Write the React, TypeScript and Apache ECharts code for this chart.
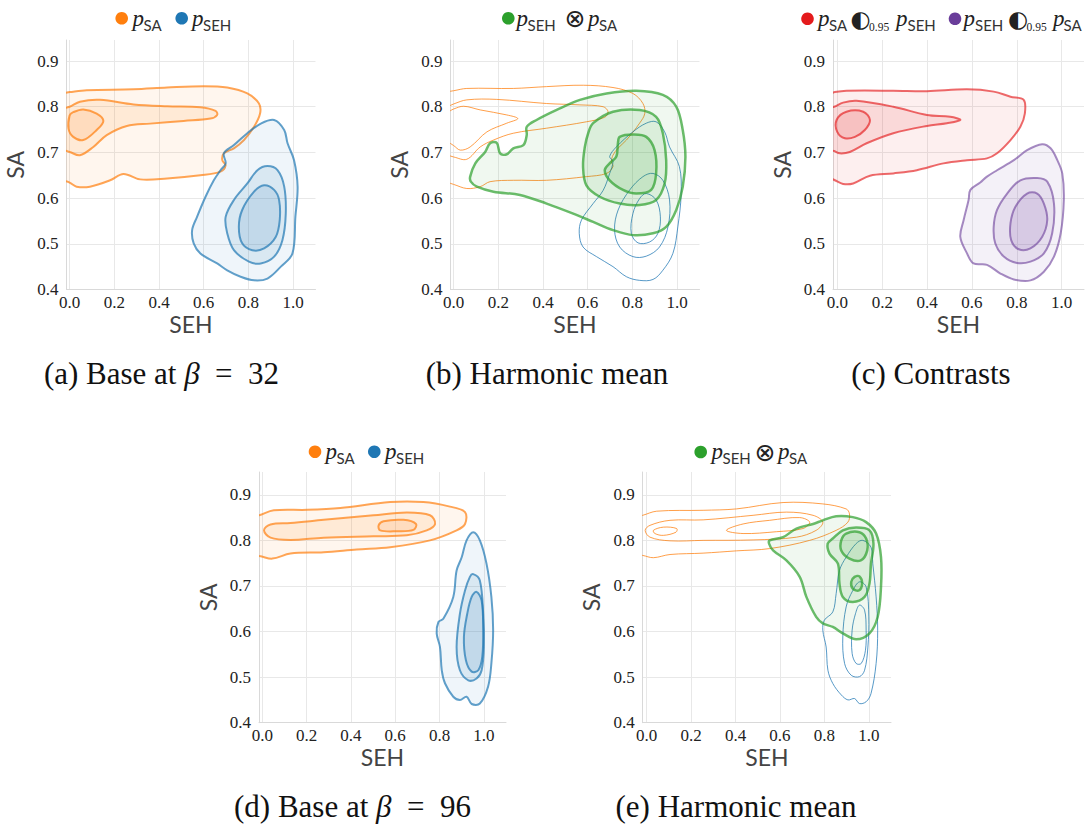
import React, { useEffect, useRef } from "react";
import * as echarts from "echarts";

type P = [number, number];

// ---------- contour data (SEH, SA) ----------
// Panel (a) base beta=32
const aSa1: P[] = [[-0.03,0.830],[0.0,0.832],[0.076,0.836],[0.286,0.838],[0.436,0.842],[0.60,0.845],[0.705,0.842],[0.795,0.829],[0.847,0.807],[0.852,0.785],[0.825,0.756],[0.78,0.727],[0.735,0.709],[0.69,0.698],[0.683,0.683],[0.698,0.672],[0.675,0.658],[0.585,0.650],[0.436,0.643],[0.316,0.641],[0.241,0.653],[0.181,0.639],[0.091,0.625],[0.031,0.625],[0.0,0.634],[-0.03,0.638],[-0.08,0.638],[-0.08,0.830]];
const aSa2: P[] = [[-0.03,0.797],[0.0,0.800],[0.046,0.811],[0.136,0.815],[0.286,0.805],[0.436,0.801],[0.585,0.799],[0.653,0.791],[0.66,0.782],[0.63,0.774],[0.51,0.769],[0.36,0.763],[0.256,0.758],[0.166,0.738],[0.106,0.712],[0.046,0.694],[0.0,0.701],[-0.03,0.705],[-0.08,0.705],[-0.08,0.797]];
const aSa3: P[] = [[0.0,0.781],[0.016,0.788],[0.061,0.794],[0.121,0.785],[0.151,0.769],[0.121,0.749],[0.061,0.727],[0.016,0.734],[-0.005,0.752]];
const aSeh1: P[] = [[0.915,0.771],[0.96,0.749],[0.975,0.72],[1.004,0.683],[1.02,0.625],[1.01,0.559],[0.997,0.479],[0.945,0.45],[0.885,0.424],[0.825,0.42],[0.765,0.428],[0.705,0.442],[0.66,0.457],[0.585,0.479],[0.555,0.501],[0.548,0.53],[0.57,0.559],[0.608,0.603],[0.645,0.639],[0.675,0.661],[0.698,0.676],[0.69,0.698],[0.735,0.716],[0.795,0.742],[0.855,0.763]];
const aSeh2: P[] = [[0.885,0.67],[0.93,0.661],[0.96,0.625],[0.967,0.566],[0.952,0.508],[0.915,0.472],[0.855,0.457],[0.802,0.461],[0.735,0.486],[0.705,0.523],[0.698,0.559],[0.735,0.596],[0.795,0.632],[0.84,0.661]];
const aSeh3: P[] = [[0.87,0.628],[0.915,0.618],[0.937,0.596],[0.94,0.552],[0.922,0.515],[0.87,0.49],[0.817,0.486],[0.772,0.501],[0.757,0.537],[0.772,0.574],[0.825,0.614]];

// Panel (b) harmonic mean
const bSa1: P[] = [[-0.03,0.833],[0.0,0.835],[0.059,0.84],[0.267,0.84],[0.416,0.844],[0.58,0.847],[0.713,0.842],[0.802,0.829],[0.847,0.807],[0.855,0.785],[0.832,0.764],[0.773,0.727],[0.735,0.709],[0.713,0.694],[0.706,0.68],[0.713,0.669],[0.684,0.654],[0.594,0.647],[0.416,0.639],[0.267,0.639],[0.163,0.636],[0.119,0.625],[0.059,0.621],[0.0,0.63],[-0.03,0.634],[-0.08,0.634],[-0.08,0.833]];
const bSa2: P[] = [[-0.03,0.80],[0.0,0.806],[0.059,0.815],[0.193,0.816],[0.416,0.807],[0.565,0.804],[0.669,0.80],[0.691,0.789],[0.676,0.777],[0.594,0.767],[0.416,0.753],[0.267,0.742],[0.178,0.727],[0.119,0.712],[0.059,0.685],[0.0,0.69],[-0.03,0.694],[-0.08,0.694],[-0.08,0.80]];
const bSa3: P[] = [[-0.03,0.788],[0.0,0.795],[0.045,0.801],[0.119,0.793],[0.238,0.782],[0.287,0.774],[0.238,0.764],[0.149,0.745],[0.074,0.712],[0.03,0.705],[0.0,0.715],[-0.03,0.723],[-0.08,0.723],[-0.08,0.788]];
const bSeh1: P[] = [[0.906,0.767],[0.944,0.745],[0.966,0.712],[1.01,0.669],[1.018,0.61],[1.003,0.537],[0.981,0.479],[0.936,0.442],[0.892,0.422],[0.832,0.42],[0.773,0.428],[0.713,0.45],[0.639,0.472],[0.579,0.493],[0.562,0.523],[0.572,0.552],[0.624,0.588],[0.669,0.617],[0.698,0.654],[0.713,0.68],[0.698,0.691],[0.728,0.712],[0.802,0.745],[0.862,0.764]];
const bSeh2: P[] = [[0.892,0.654],[0.936,0.639],[0.966,0.596],[0.959,0.537],[0.921,0.493],[0.862,0.473],[0.802,0.472],[0.743,0.493],[0.72,0.53],[0.736,0.574],[0.788,0.618],[0.847,0.647]];
const bSeh3: P[] = [[0.862,0.61],[0.906,0.596],[0.925,0.559],[0.914,0.523],[0.877,0.504],[0.825,0.502],[0.795,0.523],[0.802,0.566],[0.832,0.599]];
const bMix1: P[] = [[0.074,0.647],[0.097,0.676],[0.141,0.701],[0.163,0.72],[0.193,0.721],[0.208,0.698],[0.238,0.696],[0.267,0.709],[0.312,0.716],[0.327,0.738],[0.327,0.756],[0.371,0.771],[0.461,0.793],[0.565,0.815],[0.684,0.829],[0.817,0.835],[0.936,0.826],[0.996,0.80],[1.025,0.749],[1.037,0.69],[1.025,0.625],[0.996,0.574],[0.951,0.537],[0.892,0.523],[0.802,0.519],[0.713,0.53],[0.624,0.548],[0.535,0.566],[0.416,0.588],[0.297,0.607],[0.178,0.614],[0.104,0.625],[0.077,0.636]];
const bMix2: P[] = [[0.624,0.764],[0.713,0.789],[0.832,0.793],[0.906,0.778],[0.936,0.742],[0.951,0.683],[0.944,0.632],[0.906,0.596],[0.832,0.585],[0.743,0.588],[0.654,0.603],[0.594,0.628],[0.579,0.669],[0.587,0.712],[0.602,0.742]];
const bMix3: P[] = [[0.743,0.734],[0.802,0.739],[0.862,0.734],[0.899,0.705],[0.906,0.654],[0.884,0.618],[0.817,0.61],[0.758,0.618],[0.698,0.639],[0.676,0.661],[0.698,0.676],[0.728,0.691],[0.735,0.72]];

// Panel (c) contrasts
const cSa1: P[] = [[-0.04,0.828],[-0.012,0.832],[0.04,0.835],[0.249,0.835],[0.399,0.834],[0.578,0.838],[0.697,0.833],[0.772,0.822],[0.831,0.815],[0.836,0.785],[0.816,0.756],[0.772,0.727],[0.712,0.698],[0.667,0.687],[0.578,0.683],[0.473,0.676],[0.354,0.661],[0.249,0.654],[0.145,0.649],[0.07,0.632],[0.025,0.631],[-0.012,0.639],[-0.04,0.645],[-0.08,0.645],[-0.08,0.828]];
const cSa2: P[] = [[-0.04,0.798],[-0.015,0.80],[0.025,0.809],[0.085,0.813],[0.249,0.80],[0.399,0.782],[0.503,0.778],[0.548,0.771],[0.488,0.764],[0.399,0.758],[0.249,0.742],[0.13,0.72],[0.055,0.701],[0.01,0.698],[-0.015,0.703],[-0.04,0.706],[-0.08,0.706],[-0.08,0.798]];
const cSa3: P[] = [[-0.004,0.771],[0.04,0.789],[0.115,0.789],[0.145,0.771],[0.122,0.749],[0.078,0.734],[0.033,0.731],[-0.001,0.745]];
const cSeh1: P[] = [[0.913,0.718],[0.951,0.709],[0.981,0.683],[1.003,0.654],[1.01,0.596],[0.996,0.523],[0.966,0.472],[0.921,0.439],[0.861,0.42],[0.787,0.422],[0.727,0.435],[0.667,0.454],[0.607,0.457],[0.578,0.479],[0.548,0.515],[0.563,0.552],[0.585,0.596],[0.593,0.618],[0.637,0.634],[0.667,0.647],[0.712,0.661],[0.787,0.683],[0.846,0.705]];
const cSeh2: P[] = [[0.816,0.639],[0.891,0.644],[0.936,0.636],[0.966,0.588],[0.958,0.523],[0.921,0.479],[0.861,0.461],[0.801,0.458],[0.742,0.472],[0.704,0.501],[0.697,0.537],[0.712,0.574],[0.757,0.61]];
const cSeh3: P[] = [[0.846,0.61],[0.891,0.61],[0.921,0.588],[0.936,0.552],[0.913,0.515],[0.861,0.49],[0.809,0.488],[0.775,0.508],[0.772,0.545],[0.794,0.581]];

// Panel (d) base beta=96
const dSa1: P[] = [[-0.04,0.853],[-0.015,0.855],[0.052,0.866],[0.202,0.867],[0.352,0.871],[0.577,0.884],[0.727,0.884],[0.847,0.874],[0.915,0.862],[0.915,0.836],[0.877,0.822],[0.757,0.80],[0.577,0.785],[0.427,0.78],[0.277,0.774],[0.127,0.771],[0.045,0.76],[-0.007,0.765],[-0.04,0.767],[-0.08,0.767],[-0.08,0.853]];
const dSa2: P[] = [[0.0075,0.822],[0.037,0.835],[0.127,0.838],[0.277,0.845],[0.502,0.855],[0.652,0.861],[0.757,0.855],[0.78,0.836],[0.742,0.822],[0.652,0.811],[0.502,0.809],[0.277,0.806],[0.127,0.801],[0.037,0.806]];
const dSa3: P[] = [[0.525,0.833],[0.547,0.842],[0.637,0.845],[0.694,0.836],[0.682,0.823],[0.607,0.82],[0.532,0.822]];
const dSeh1: P[] = [[0.952,0.818],[0.982,0.80],[1.012,0.749],[1.034,0.676],[1.042,0.603],[1.034,0.53],[1.019,0.479],[0.982,0.442],[0.945,0.441],[0.922,0.457],[0.892,0.45],[0.862,0.457],[0.825,0.486],[0.81,0.515],[0.802,0.566],[0.787,0.596],[0.795,0.621],[0.817,0.628],[0.862,0.676],[0.877,0.734],[0.9,0.763],[0.922,0.80]];
const dSeh2: P[] = [[0.952,0.726],[0.982,0.712],[0.997,0.639],[1.0,0.566],[0.99,0.515],[0.967,0.497],[0.93,0.493],[0.892,0.515],[0.877,0.566],[0.892,0.639],[0.915,0.69],[0.937,0.72]];
const dSeh3: P[] = [[0.967,0.687],[0.99,0.668],[0.997,0.603],[0.993,0.545],[0.975,0.515],[0.945,0.512],[0.919,0.537],[0.91,0.588],[0.925,0.639],[0.945,0.676]];

// Panel (e) harmonic mean
const eSa1: P[] = [[-0.04,0.853],[-0.018,0.855],[0.045,0.864],[0.254,0.866],[0.404,0.869],[0.614,0.883],[0.793,0.88],[0.898,0.869],[0.913,0.858],[0.906,0.84],[0.853,0.822],[0.734,0.80],[0.554,0.782],[0.404,0.777],[0.254,0.772],[0.105,0.769],[0.03,0.762],[-0.018,0.767],[-0.04,0.768],[-0.08,0.768],[-0.08,0.853]];
const eSa2: P[] = [[-0.007,0.822],[0.015,0.833],[0.105,0.844],[0.254,0.845],[0.479,0.855],[0.629,0.862],[0.749,0.855],[0.793,0.84],[0.763,0.822],[0.674,0.807],[0.479,0.801],[0.254,0.80],[0.105,0.799],[0.015,0.807]];
const eSa3a: P[] = [[0.03,0.822],[0.075,0.829],[0.135,0.826],[0.132,0.818],[0.075,0.811],[0.037,0.815]];
const eSa3b: P[] = [[0.359,0.822],[0.434,0.836],[0.554,0.844],[0.689,0.85],[0.734,0.84],[0.704,0.826],[0.584,0.819],[0.434,0.815]];
const eSeh1: P[] = [[0.973,0.80],[1.01,0.785],[1.018,0.749],[1.033,0.676],[1.04,0.603],[1.033,0.53],[1.01,0.464],[0.988,0.446],[0.958,0.442],[0.936,0.453],[0.906,0.45],[0.876,0.461],[0.838,0.486],[0.816,0.515],[0.808,0.566],[0.793,0.603],[0.80,0.625],[0.838,0.643],[0.853,0.683],[0.868,0.734],[0.898,0.763],[0.943,0.793]];
const eSeh2: P[] = [[0.958,0.709],[0.988,0.698],[1.0,0.632],[0.996,0.566],[0.981,0.515],[0.958,0.501],[0.921,0.504],[0.891,0.53],[0.883,0.588],[0.898,0.654],[0.928,0.69]];
const eSeh3: P[] = [[0.958,0.658],[0.981,0.647],[0.988,0.603],[0.985,0.559],[0.966,0.53],[0.943,0.53],[0.925,0.552],[0.925,0.603],[0.94,0.639]];
const eMix1: P[] = [[0.554,0.80],[0.614,0.807],[0.674,0.826],[0.749,0.836],[0.793,0.844],[0.853,0.853],[0.928,0.851],[0.988,0.84],[1.033,0.815],[1.055,0.763],[1.055,0.698],[1.04,0.632],[1.003,0.596],[0.943,0.583],[0.883,0.596],[0.838,0.61],[0.793,0.618],[0.763,0.632],[0.719,0.676],[0.689,0.72],[0.629,0.756],[0.569,0.778],[0.551,0.793]];
const eMix2: P[] = [[0.838,0.804],[0.883,0.822],[0.943,0.828],[1.003,0.822],[1.021,0.793],[1.01,0.749],[1.003,0.705],[0.981,0.676],[0.928,0.665],[0.883,0.676],[0.868,0.705],[0.861,0.749],[0.823,0.771],[0.815,0.793]];
const eMix3a: P[] = [[0.898,0.815],[0.958,0.818],[0.988,0.804],[0.993,0.778],[0.964,0.756],[0.913,0.76],[0.876,0.778],[0.876,0.80]];
const eMix3b: P[] = [[0.936,0.72],[0.958,0.721],[0.97,0.705],[0.955,0.69],[0.928,0.694],[0.921,0.709]];

// ---------- axes / texts ----------
const X_TICKS_STEP = 0.2;
const Y_TICKS_STEP = 0.1;
const xAxisTitle = "SEH";
const yAxisTitle = "SA";
const captions = [
  { pre: "(a) Base at ", beta: "β", post: "  =  32" },
  { pre: "(b) Harmonic mean", beta: "", post: "" },
  { pre: "(c) Contrasts", beta: "", post: "" },
  { pre: "(d) Base at ", beta: "β", post: "  =  96" },
  { pre: "(e) Harmonic mean", beta: "", post: "" },
];

const RGB: Record<string, number[]> = {
  orange: [255, 127, 14],
  blue: [31, 119, 180],
  green: [44, 160, 44],
  red: [228, 26, 28],
  purple: [106, 61, 154],
};
const rgba = (c: number[], a: number) => `rgba(${c[0]},${c[1]},${c[2]},${a})`;
const solid = (k: string) => rgba(RGB[k], 1);

const panels = [
  { left: 66.5, top: 40, width: 249, height: 249.5, xmin: -0.014, xmax: 1.1, ymin: 0.4, ymax: 0.946 },
  { left: 450.5, top: 40, width: 249, height: 249.5, xmin: -0.014, xmax: 1.1, ymin: 0.4, ymax: 0.946 },
  { left: 833, top: 40, width: 251, height: 249.5, xmin: -0.02, xmax: 1.1, ymin: 0.4, ymax: 0.946 },
  { left: 259, top: 472, width: 247, height: 250.7, xmin: -0.015, xmax: 1.1, ymin: 0.4, ymax: 0.95 },
  { left: 642.7, top: 472, width: 248.3, height: 250.7, xmin: -0.018, xmax: 1.1, ymin: 0.4, ymax: 0.95 },
];

interface Layer { g: number; pts: P[]; c: string; lw: number; la: number; fa: number }
const THICK = 2;
const FILLS = [0.07, 0.1, 0.12];
const thickSet = (g: number, c: string, arrs: P[][], la = 0.7): Layer[] =>
  arrs.map((pts, i) => ({ g, pts, c, lw: THICK, la, fa: FILLS[Math.min(i, 2)] }));
const thinSet = (g: number, c: string, arrs: P[][]): Layer[] =>
  arrs.map((pts) => ({ g, pts, c, lw: 1, la: 0.75, fa: 0 }));

const layers: Layer[] = [
  ...thickSet(0, "orange", [aSa1, aSa2, aSa3]),
  ...thickSet(0, "blue", [aSeh1, aSeh2, aSeh3]),
  ...thinSet(1, "orange", [bSa1, bSa2, bSa3]),
  ...thinSet(1, "blue", [bSeh1, bSeh2, bSeh3]),
  ...thickSet(1, "green", [bMix1, bMix2, bMix3]).map((l) => ({ ...l, lw: 2.5 })),
  ...thickSet(2, "red", [cSa1, cSa2, cSa3], 0.65),
  ...thickSet(2, "purple", [cSeh1, cSeh2, cSeh3], 0.6),
  ...thickSet(3, "orange", [dSa1, dSa2, dSa3]),
  ...thickSet(3, "blue", [dSeh1, dSeh2, dSeh3]),
  ...thinSet(4, "orange", [eSa1, eSa2, eSa3a, eSa3b]),
  ...thinSet(4, "blue", [eSeh1, eSeh2, eSeh3]),
  ...[
    ...thickSet(4, "green", [eMix1, eMix2, eMix3a]),
    { g: 4, pts: eMix3b, c: "green", lw: THICK, la: 0.7, fa: FILLS[2] },
  ].map((l) => ({ ...l, lw: 2.5 })),
];

const SERIF = "Liberation Serif, Times New Roman, serif";
const SANS = "Lato, Open Sans, sans-serif";
const SYM = "DejaVu Sans, sans-serif";

type LegItem = { kind: string; x: number; y: number; t?: string; c?: string };
const legends: LegItem[][] = [
  [
    { kind: "dot", x: 121.7, y: 18.3, c: "orange" }, { kind: "p", x: 132.5, y: 18, t: "p" }, { kind: "sub", x: 143.5, y: 24.5, t: "SA" },
    { kind: "dot", x: 181.7, y: 18.3, c: "blue" }, { kind: "p", x: 192, y: 18, t: "p" }, { kind: "sub", x: 203, y: 24.5, t: "SEH" },
  ],
  [
    { kind: "dot", x: 508.3, y: 18.3, c: "green" }, { kind: "p", x: 516.5, y: 18, t: "p" }, { kind: "sub", x: 527.5, y: 24.5, t: "SEH" },
    { kind: "sym", x: 564.5, y: 18.5, t: "⊗" }, { kind: "p", x: 588, y: 18, t: "p" }, { kind: "sub", x: 599, y: 24.5, t: "SA" },
  ],
  [
    { kind: "dot", x: 807.5, y: 18.8, c: "red" }, { kind: "p", x: 818, y: 18, t: "p" }, { kind: "sub", x: 829, y: 24.5, t: "SA" },
    { kind: "half", x: 850.5, y: 19, t: "◐" }, { kind: "num", x: 869, y: 27, t: "0.95" },
    { kind: "p", x: 896, y: 18, t: "p" }, { kind: "sub", x: 907.5, y: 24.5, t: "SEH" },
    { kind: "dot", x: 955, y: 18.8, c: "purple" }, { kind: "p", x: 963.5, y: 18, t: "p" }, { kind: "sub", x: 975, y: 24.5, t: "SEH" },
    { kind: "half", x: 1008, y: 19, t: "◐" }, { kind: "num", x: 1026.5, y: 27, t: "0.95" },
    { kind: "p", x: 1053, y: 18, t: "p" }, { kind: "sub", x: 1063.5, y: 24.5, t: "SA" },
  ],
  [
    { kind: "dot", x: 315, y: 451.7, c: "orange" }, { kind: "p", x: 325.5, y: 451.4, t: "p" }, { kind: "sub", x: 336.5, y: 458, t: "SA" },
    { kind: "dot", x: 374.3, y: 451.7, c: "blue" }, { kind: "p", x: 385, y: 451.4, t: "p" }, { kind: "sub", x: 396, y: 458, t: "SEH" },
  ],
  [
    { kind: "dot", x: 700.7, y: 452, c: "green" }, { kind: "p", x: 711.5, y: 451.4, t: "p" }, { kind: "sub", x: 722.5, y: 458, t: "SEH" },
    { kind: "sym", x: 754.5, y: 452, t: "⊗" }, { kind: "p", x: 778, y: 451.4, t: "p" }, { kind: "sub", x: 789, y: 458, t: "SA" },
  ],
];
const captionPos = [
  { x: 161.5, y: 373 },
  { x: 547, y: 373 },
  { x: 931, y: 373 },
  { x: 352.5, y: 806 },
  { x: 736, y: 806 },
];

function buildGraphic() {
  const els: any[] = [];
  legends.forEach((items) => {
    items.forEach((it) => {
      if (it.kind === "dot") {
        els.push({ type: "circle", shape: { cx: it.x, cy: it.y, r: 6.3 }, style: { fill: solid(it.c!) }, silent: true });
      } else {
        let font = "";
        let fill = "#222";
        if (it.kind === "p") font = `italic 23px ${SERIF}`;
        if (it.kind === "sub") { font = `15px ${SANS}`; fill = "#333"; }
        if (it.kind === "sym") font = `25px ${SYM}`;
        if (it.kind === "half") font = `23px ${SYM}`;
        if (it.kind === "num") font = `11.5px ${SERIF}`;
        els.push({
          type: "text", x: it.x, y: it.y, silent: true,
          style: { text: it.t, font, fill, align: "left", verticalAlign: "middle" },
        });
      }
    });
  });
  captions.forEach((c, i) => {
    const text = c.beta ? `${c.pre}{b|${c.beta}}${c.post}` : c.pre;
    els.push({
      type: "text",
      x: captionPos[i].x,
      y: captionPos[i].y,
      silent: true,
      style: {
        text,
        fill: "#111",
        fontFamily: SERIF,
        fontSize: 31,
        align: "center",
        verticalAlign: "middle",
        rich: { b: { fontFamily: SERIF, fontSize: 31, fontStyle: "italic", fill: "#111" } },
      },
    });
  });
  return els;
}

function buildOption() {
  const grid = panels.map((p) => ({ left: p.left, top: p.top, width: p.width, height: p.height, containLabel: false }));
  const fmt = (v: number) => v.toFixed(1);
  const labelStyle = { fontFamily: SERIF, fontSize: 17, color: "#222" };
  const xAxis = panels.map((p, i) => ({
    gridIndex: i,
    type: "value",
    min: p.xmin,
    max: p.xmax,
    splitNumber: 5,
    minInterval: X_TICKS_STEP,
    maxInterval: X_TICKS_STEP,
    axisLine: { show: true, onZero: false, lineStyle: { color: "#d9d9d9", width: 1 } },
    axisTick: { show: false },
    axisLabel: { show: true, showMinLabel: false, showMaxLabel: false, formatter: fmt, margin: 4, ...labelStyle },
    splitLine: { show: true, showMinLine: false, showMaxLine: false, lineStyle: { color: "#e8e8e8", width: 1 } },
    name: xAxisTitle,
    nameLocation: "middle",
    nameGap: 23,
    nameTextStyle: { fontFamily: SANS, fontSize: 23, color: "#444" },
  }));
  const yAxis = panels.map((p, i) => ({
    gridIndex: i,
    type: "value",
    min: p.ymin,
    max: p.ymax,
    splitNumber: 5,
    minInterval: Y_TICKS_STEP,
    maxInterval: Y_TICKS_STEP,
    axisLine: { show: true, onZero: false, lineStyle: { color: "#d9d9d9", width: 1 } },
    axisTick: { show: false },
    axisLabel: { show: true, showMaxLabel: false, formatter: fmt, margin: 8, ...labelStyle },
    splitLine: { show: true, showMinLine: false, showMaxLine: false, lineStyle: { color: "#e8e8e8", width: 1 } },
    name: yAxisTitle,
    nameLocation: "middle",
    nameGap: 40,
    nameTextStyle: { fontFamily: SANS, fontSize: 23, color: "#444" },
  }));
  const series = layers.map((L, i) => ({
    type: "custom",
    id: "contour" + i,
    coordinateSystem: "cartesian2d",
    xAxisIndex: L.g,
    yAxisIndex: L.g,
    clip: true,
    silent: true,
    z: L.fa > 0 ? 3 : 2,
    data: [[L.pts[0][0], L.pts[0][1]]],
    renderItem: (_params: any, api: any) => ({
      type: "polygon",
      shape: { points: L.pts.map((pt) => api.coord(pt)), smooth: 0.35 },
      style: {
        fill: L.fa > 0 ? rgba(RGB[L.c], L.fa) : "none",
        stroke: rgba(RGB[L.c], L.la),
        lineWidth: L.lw,
        lineJoin: "round",
      },
    }),
  }));
  return {
    animation: false,
    backgroundColor: "#ffffff",
    textStyle: { fontFamily: SERIF },
    grid,
    xAxis,
    yAxis,
    series,
    graphic: buildGraphic(),
  };
}

export default function App() {
  const ref = useRef<HTMLDivElement>(null);
  useEffect(() => {
    document.body.style.margin = "0";
    if (!ref.current) return;
    const chart = echarts.init(ref.current, undefined, { renderer: "svg" });
    chart.setOption(buildOption() as any);
    return () => chart.dispose();
  }, []);
  return <div ref={ref} style={{ width: 1085, height: 824 }} />;
}
